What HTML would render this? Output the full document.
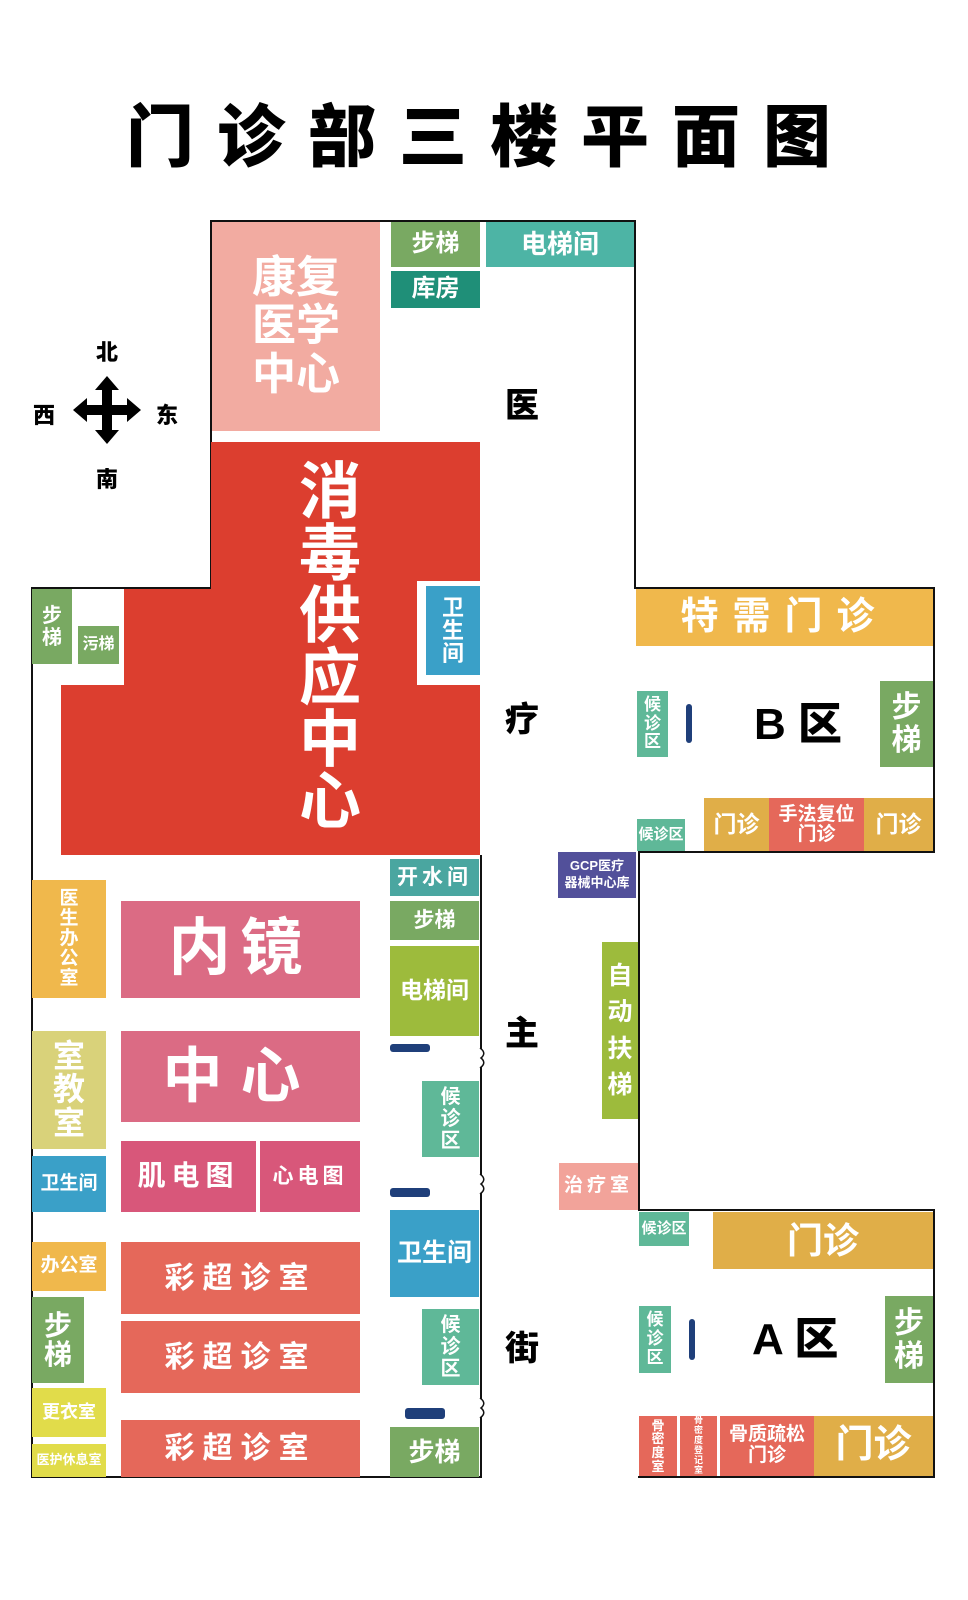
<!DOCTYPE html>
<html><head><meta charset="utf-8"><style>
body{margin:0;width:968px;height:1600px;background:#fff;position:relative;overflow:hidden;font-family:"Liberation Sans","Noto Sans CJK SC",sans-serif;font-weight:bold}
.b{position:absolute;display:flex;align-items:center;justify-content:center;text-align:center;color:#fff;line-height:1.1;box-sizing:border-box}
.l{position:absolute;background:#111}
.k{position:absolute;color:#000;font-weight:900}
.desk{position:absolute;background:#1f3f7a;border-radius:3px}
</style></head><body>
<div class="k" style="left:126px;top:98px;font-size:68px;letter-spacing:23px;white-space:nowrap;line-height:80px">门诊部三楼平面图</div>

<!-- outlines -->
<div class="l" style="left:210px;top:220px;width:426px;height:2px"></div>
<div class="l" style="left:210px;top:220px;width:2px;height:368px"></div>
<div class="l" style="left:31px;top:587px;width:181px;height:2px"></div>
<div class="l" style="left:31px;top:587px;width:2px;height:891px"></div>
<div class="l" style="left:31px;top:1476px;width:451px;height:2px"></div>
<div class="l" style="left:634px;top:220px;width:2px;height:368px"></div>
<div class="l" style="left:634px;top:587px;width:301px;height:2px"></div>
<div class="l" style="left:933px;top:587px;width:2px;height:266px"></div>
<div class="l" style="left:638px;top:851px;width:297px;height:2px"></div>
<div class="l" style="left:638px;top:851px;width:2px;height:360px"></div>
<div class="l" style="left:638px;top:1209px;width:297px;height:2px"></div>
<div class="l" style="left:933px;top:1209px;width:2px;height:269px"></div>
<div class="l" style="left:638px;top:1476px;width:297px;height:2px"></div>
<div class="l" style="left:480px;top:855px;width:2px;height:623px"></div>
<svg style="position:absolute;left:478px;top:1048px" width="12" height="20"><path d="M2 0 Q9 5 3 10 Q9 15 2 20" stroke="#111" stroke-width="1.5" fill="#fff"/></svg>
<svg style="position:absolute;left:478px;top:1174px" width="12" height="20"><path d="M2 0 Q9 5 3 10 Q9 15 2 20" stroke="#111" stroke-width="1.5" fill="#fff"/></svg>
<svg style="position:absolute;left:478px;top:1398px" width="12" height="20"><path d="M2 0 Q9 5 3 10 Q9 15 2 20" stroke="#111" stroke-width="1.5" fill="#fff"/></svg>

<!-- compass -->
<div class="k" style="left:96px;top:335px;font-size:22px">北</div>
<div class="k" style="left:96px;top:462px;font-size:22px">南</div>
<div class="k" style="left:33px;top:398px;font-size:22px">西</div>
<div class="k" style="left:156px;top:398px;font-size:22px">东</div>
<svg style="position:absolute;left:73px;top:376px" width="68" height="68" viewBox="0 0 68 68">
<path d="M34 0 L46 14 L39 14 L39 29 L54 29 L54 22 L68 34 L54 46 L54 39 L39 39 L39 54 L46 54 L34 68 L22 54 L29 54 L29 39 L14 39 L14 46 L0 34 L14 22 L14 29 L29 29 L29 14 L22 14 Z" fill="#000"/></svg>

<!-- street labels -->
<div class="k" style="left:505px;top:378px;font-size:34px">医</div>
<div class="k" style="left:505px;top:692px;font-size:34px">疗</div>
<div class="k" style="left:505px;top:1006px;font-size:34px">主</div>
<div class="k" style="left:505px;top:1321px;font-size:34px">街</div>

<!-- top wing -->
<div class="b" style="left:212px;top:222px;width:168px;height:209px;background:#f2aba1;font-size:44px">康复<br>医学<br>中心</div>
<div class="b" style="left:391px;top:222px;width:89px;height:45px;background:#79a962;font-size:24px">步梯</div>
<div class="b" style="left:391px;top:271px;width:89px;height:37px;background:#1f8f78;font-size:24px">库房</div>
<div class="b" style="left:486px;top:222px;width:148px;height:45px;background:#4db4a5;font-size:26px">电梯间</div>

<!-- red -->
<div class="b" style="left:211px;top:442px;width:269px;height:413px;background:#dc3e2f"></div>
<div class="b" style="left:61px;top:685px;width:419px;height:170px;background:#dc3e2f"></div>
<div class="b" style="left:124px;top:589px;width:90px;height:100px;background:#dc3e2f"></div>
<div class="b" style="left:417px;top:581px;width:63px;height:104px;background:#fff"></div>
<div class="b" style="left:426px;top:586px;width:54px;height:89px;background:#3aa0c8;font-size:22px;line-height:1.05">卫<br>生<br>间</div>
<div class="b" style="left:290px;top:462px;width:80px;height:380px;color:#fff;font-size:62px;line-height:1.0;align-items:flex-start">消<br>毒<br>供<br>应<br>中<br>心</div>
<div class="b" style="left:32px;top:589px;width:40px;height:75px;background:#79a962;font-size:20px">步<br>梯</div>
<div class="b" style="left:78px;top:626px;width:41px;height:38px;background:#79a962;font-size:16px">污梯</div>

<!-- B area -->
<div class="b" style="left:636px;top:589px;width:297px;height:57px;background:#f0b84c;font-size:38px;letter-spacing:14px">特需门诊</div>
<div class="b" style="left:637px;top:691px;width:31px;height:66px;background:#5fb898;font-size:17px">候<br>诊<br>区</div>
<div class="desk" style="left:686px;top:704px;width:6px;height:39px"></div>
<div class="k" style="left:754px;top:688px;font-size:44px">B 区</div>
<div class="b" style="left:880px;top:681px;width:53px;height:86px;background:#79a962;font-size:30px">步<br>梯</div>
<div class="b" style="left:637px;top:819px;width:48px;height:32px;background:#5fb898;font-size:15px">候诊区</div>
<div class="b" style="left:704px;top:798px;width:65px;height:53px;background:#e0ae48;font-size:23px">门诊</div>
<div class="b" style="left:769px;top:798px;width:95px;height:53px;background:#e5685a;font-size:19px;line-height:1.05">手法复位<br>门诊</div>
<div class="b" style="left:864px;top:798px;width:69px;height:53px;background:#e0ae48;font-size:23px">门诊</div>

<!-- middle column -->
<div class="b" style="left:558px;top:852px;width:78px;height:46px;background:#52509a;font-size:13px;line-height:1.3">GCP医疗<br>器械中心库</div>
<div class="b" style="left:390px;top:859px;width:89px;height:37px;background:#4aa6a0;font-size:21px;letter-spacing:4px">开水间</div>
<div class="b" style="left:390px;top:901px;width:89px;height:39px;background:#79a962;font-size:21px">步梯</div>
<div class="b" style="left:390px;top:946px;width:89px;height:90px;background:#9dbb3c;font-size:23px">电梯间</div>
<div class="desk" style="left:390px;top:1044px;width:40px;height:8px"></div>
<div class="b" style="left:422px;top:1081px;width:57px;height:76px;background:#5fb898;font-size:20px">候<br>诊<br>区</div>
<div class="desk" style="left:390px;top:1188px;width:40px;height:9px"></div>
<div class="b" style="left:390px;top:1210px;width:89px;height:87px;background:#3aa0c8;font-size:25px">卫生间</div>
<div class="b" style="left:422px;top:1309px;width:57px;height:76px;background:#5fb898;font-size:20px">候<br>诊<br>区</div>
<div class="desk" style="left:405px;top:1408px;width:40px;height:11px"></div>
<div class="b" style="left:390px;top:1427px;width:89px;height:50px;background:#79a962;font-size:26px">步梯</div>
<div class="b" style="left:602px;top:942px;width:36px;height:177px;background:#9dbb3c;font-size:25px;line-height:1.45">自<br>动<br>扶<br>梯</div>
<div class="b" style="left:559px;top:1163px;width:79px;height:47px;background:#f2a39a;font-size:19px;letter-spacing:4px">治疗室</div>

<!-- left column -->
<div class="b" style="left:32px;top:880px;width:74px;height:118px;background:#f0b84c;font-size:19px;line-height:1.05">医<br>生<br>办<br>公<br>室</div>
<div class="b" style="left:121px;top:901px;width:239px;height:97px;background:#db6b84;font-size:62px;letter-spacing:10px">内镜</div>
<div class="b" style="left:32px;top:1031px;width:74px;height:118px;background:#d9d27a;font-size:32px;line-height:1.05">室<br>教<br>室</div>
<div class="b" style="left:121px;top:1031px;width:239px;height:91px;background:#db6b84;font-size:60px;letter-spacing:18px">中心</div>
<div class="b" style="left:32px;top:1156px;width:74px;height:56px;background:#3aa0c8;font-size:19px">卫生间</div>
<div class="b" style="left:121px;top:1141px;width:135px;height:71px;background:#d8577a;font-size:28px;letter-spacing:6px">肌电图</div>
<div class="b" style="left:260px;top:1141px;width:100px;height:71px;background:#d8577a;font-size:21px;letter-spacing:4px">心电图</div>
<div class="b" style="left:32px;top:1242px;width:74px;height:49px;background:#f0b84c;font-size:19px">办公室</div>
<div class="b" style="left:121px;top:1242px;width:239px;height:72px;background:#e5685a;font-size:30px;letter-spacing:8px">彩超诊室</div>
<div class="b" style="left:121px;top:1321px;width:239px;height:72px;background:#e5685a;font-size:30px;letter-spacing:8px">彩超诊室</div>
<div class="b" style="left:121px;top:1420px;width:239px;height:57px;background:#e5685a;font-size:30px;letter-spacing:8px">彩超诊室</div>
<div class="b" style="left:32px;top:1297px;width:52px;height:86px;background:#79a962;font-size:28px;line-height:1.05">步<br>梯</div>
<div class="b" style="left:32px;top:1388px;width:74px;height:49px;background:#e1dc4a;font-size:18px">更衣室</div>
<div class="b" style="left:32px;top:1444px;width:74px;height:33px;background:#e1dc4a;font-size:13px">医护休息室</div>

<!-- A area -->
<div class="b" style="left:639px;top:1212px;width:50px;height:34px;background:#5fb898;font-size:15px">候诊区</div>
<div class="b" style="left:713px;top:1212px;width:220px;height:57px;background:#e0ae48;font-size:36px">门诊</div>
<div class="b" style="left:639px;top:1306px;width:32px;height:67px;background:#5fb898;font-size:17px">候<br>诊<br>区</div>
<div class="desk" style="left:689px;top:1319px;width:6px;height:41px"></div>
<div class="k" style="left:752px;top:1303px;font-size:44px">A 区</div>
<div class="b" style="left:885px;top:1296px;width:48px;height:87px;background:#79a962;font-size:30px">步<br>梯</div>
<div class="b" style="left:639px;top:1416px;width:38px;height:60px;background:#e5685a;font-size:13px;line-height:1.05">骨<br>密<br>度<br>室</div>
<div class="b" style="left:680px;top:1416px;width:37px;height:60px;background:#e5685a;font-size:9px;line-height:1.1">骨<br>密<br>度<br>登<br>记<br>室</div>
<div class="b" style="left:720px;top:1416px;width:94px;height:60px;background:#e5685a;font-size:19px;line-height:1.1">骨质疏松<br>门诊</div>
<div class="b" style="left:814px;top:1416px;width:119px;height:60px;background:#e0ae48;font-size:38px">门诊</div>
</body></html>
